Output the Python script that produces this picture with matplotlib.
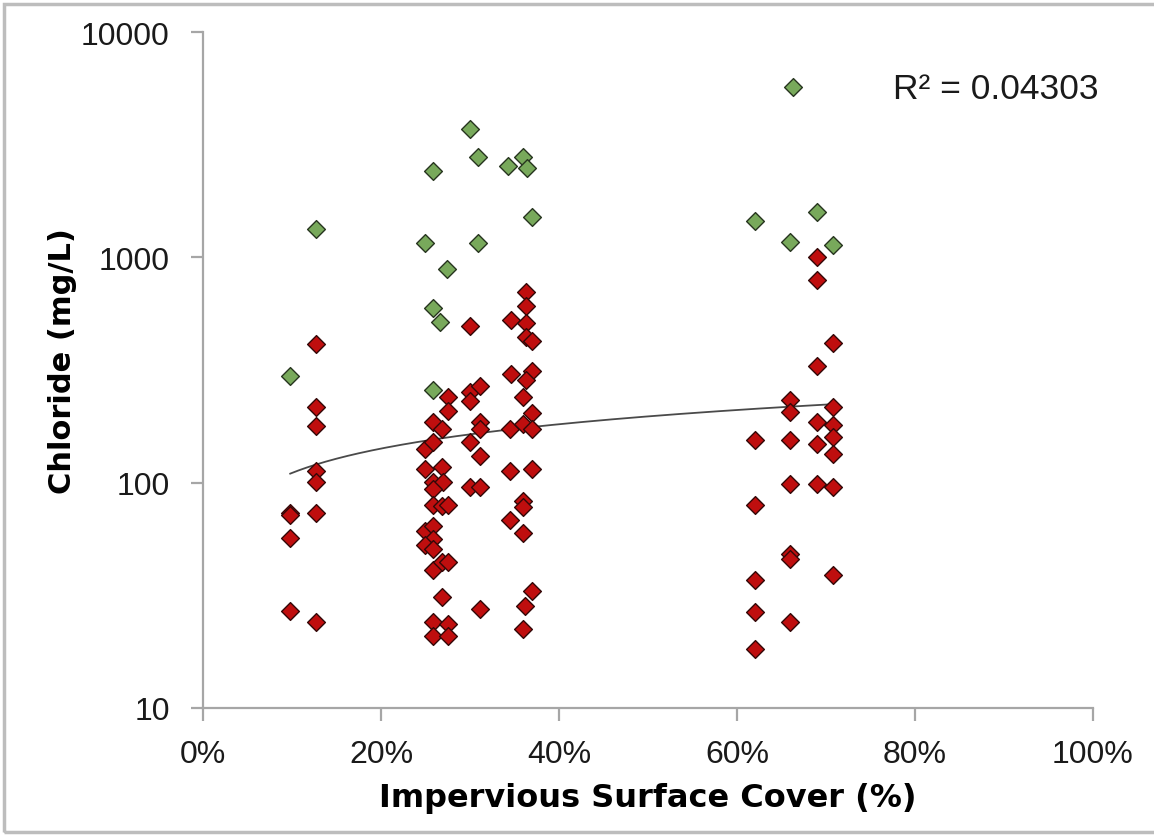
import numpy as np
import matplotlib
matplotlib.use('Agg')
import matplotlib.pyplot as plt
from matplotlib.patches import Rectangle

# ---------------- data ----------------
green_x = [9.8, 12.7, 30.0, 30.9, 25.8, 34.3, 36.0, 36.4, 37.0, 24.9, 30.9,
           27.4, 25.8, 26.6, 25.8, 62.0, 66.3, 66.0, 69.0, 70.8]
green_y = [297, 1336, 3710, 2790, 2416, 2543, 2790, 2490, 1510, 1158, 1158,
           888, 596, 516, 258, 1450, 5700, 1170, 1594, 1134]

red_x = [
    # ~10 %
    9.8, 9.8, 9.8, 9.8,
    # ~13 %
    12.7, 12.7, 12.7, 12.7, 12.7, 12.7, 12.7,
    # 25-31 %
    30.0, 27.5, 27.5, 30.0, 31.1, 30.0, 25.8, 26.9, 31.1, 31.1,
    24.9, 25.8, 30.0, 31.1, 24.9, 26.9, 25.8, 27.0, 25.8, 30.0, 31.1,
    25.8, 26.9, 27.5, 24.9, 25.8, 25.8, 24.9, 25.8, 25.8, 26.9, 27.5,
    26.9, 31.1, 25.8, 27.5, 25.8, 27.5,
    # 34-37 %
    36.3, 36.3, 34.6, 36.3, 36.3, 37.0, 34.6, 37.0, 36.3, 36.0, 37.0,
    34.5, 36.0, 37.0, 34.5, 37.0, 36.0, 36.0, 34.5, 36.0, 37.0, 36.2, 36.0,
    # 62 %
    62.0, 62.0, 62.0, 62.0, 62.0,
    # 66 %
    66.0, 66.0, 66.0, 66.0, 66.0, 66.0, 66.0,
    # 69 %
    69.0, 69.0, 69.0, 69.0, 69.0, 69.0,
    # 71 %
    70.8, 70.8, 70.8, 70.8, 70.8, 70.8, 70.8,
]
red_y = [
    73, 72, 57, 27,
    413, 217, 178, 113, 101, 73, 24,
    496, 240, 208, 253, 269, 230, 186, 173, 186, 173,
    141, 152, 152, 131, 115, 117, 101, 101, 94, 96, 96,
    80, 79, 80, 61, 64, 56, 53, 51, 41, 44.5, 44.5,
    31, 27.5, 24.2, 23.6, 20.9, 20.9,
    702, 608, 527, 511, 443, 425, 304, 313, 285, 240, 203,
    173, 183, 173, 113, 115, 83, 78, 68, 60, 33, 28.4, 22.4,
    154, 80, 37, 26.7, 18.3,
    233, 206, 154, 99, 48, 46, 24.2,
    1003, 793, 329, 186, 148, 99,
    417, 217, 181, 159, 134, 96, 39,
]

x_ticks = [0, 20, 40, 60, 80, 100]
x_tick_labels = ['0%', '20%', '40%', '60%', '80%', '100%']
y_ticks = [10, 100, 1000, 10000]
y_tick_labels = ['10', '100', '1000', '10000']
x_label = 'Impervious Surface Cover (%)'
y_label = 'Chloride (mg/L)'
r2_text = 'R² = 0.04303'

# ---------------- figure ----------------
plt.rcParams['font.family'] = ['Liberation Sans', 'DejaVu Sans']
fig = plt.figure(figsize=(11.54, 8.37), dpi=100)
ax = fig.add_axes([203 / 1154, 1 - 709 / 837, 890 / 1154, 676 / 837])

ax.set_yscale('log')
ax.set_xlim(0, 100)
ax.set_ylim(10, 10000)

# power trendline fitted on all points
all_x = np.array(green_x + red_x, dtype=float)
all_y = np.array(green_y + red_y, dtype=float)
b, ln_a = np.polyfit(np.log(all_x), np.log(all_y), 1)
tx = np.linspace(all_x.min(), all_x.max(), 200)
ty = np.exp(ln_a) * tx ** b
ax.plot(tx, ty, color='#4a4a4a', lw=1.3, zorder=2)

ms = 82
ax.scatter(red_x, red_y, marker='D', s=ms, facecolor='#bf0e0e',
           edgecolor='#330808', linewidth=1.0, zorder=3)
ax.scatter(green_x, green_y, marker='D', s=ms, facecolor='#78a95b',
           edgecolor='#27351f', linewidth=1.0, zorder=3)

# axes styling
for s in ['top', 'right']:
    ax.spines[s].set_visible(False)
for s in ['left', 'bottom']:
    ax.spines[s].set_color('#a6a6a6')
    ax.spines[s].set_linewidth(1.6)

ax.set_xticks(x_ticks)
ax.set_xticklabels(x_tick_labels)
ax.set_yticks(y_ticks)
ax.set_yticklabels(y_tick_labels)
ax.minorticks_off()
ax.tick_params(axis='x', direction='out', length=9, width=1.6, color='#a6a6a6',
               labelsize=23, pad=13, labelcolor='#1a1a1a')
ax.tick_params(axis='y', direction='out', length=9, width=1.6, color='#a6a6a6',
               labelsize=23, pad=15, labelcolor='#1a1a1a')

ax.set_xlabel(x_label, fontsize=23, fontweight='bold', family='DejaVu Sans',
              labelpad=10)
ax.set_ylabel(y_label, fontsize=22, fontweight='bold', family='DejaVu Sans')
ax.yaxis.set_label_coords(-0.142, 0.515)

ax.text(0.775, 0.917, r2_text, transform=ax.transAxes, fontsize=25.5,
        color='#1a1a1a', ha='left', va='center')

# outer figure border
fig.patches.append(Rectangle((4 / 1154, 4 / 837), 1.1, 1 - 9 / 837,
                             transform=fig.transFigure, fill=False,
                             edgecolor='#bdbdbd', linewidth=2.5))

fig.savefig('out.png', dpi=100, facecolor='white')
